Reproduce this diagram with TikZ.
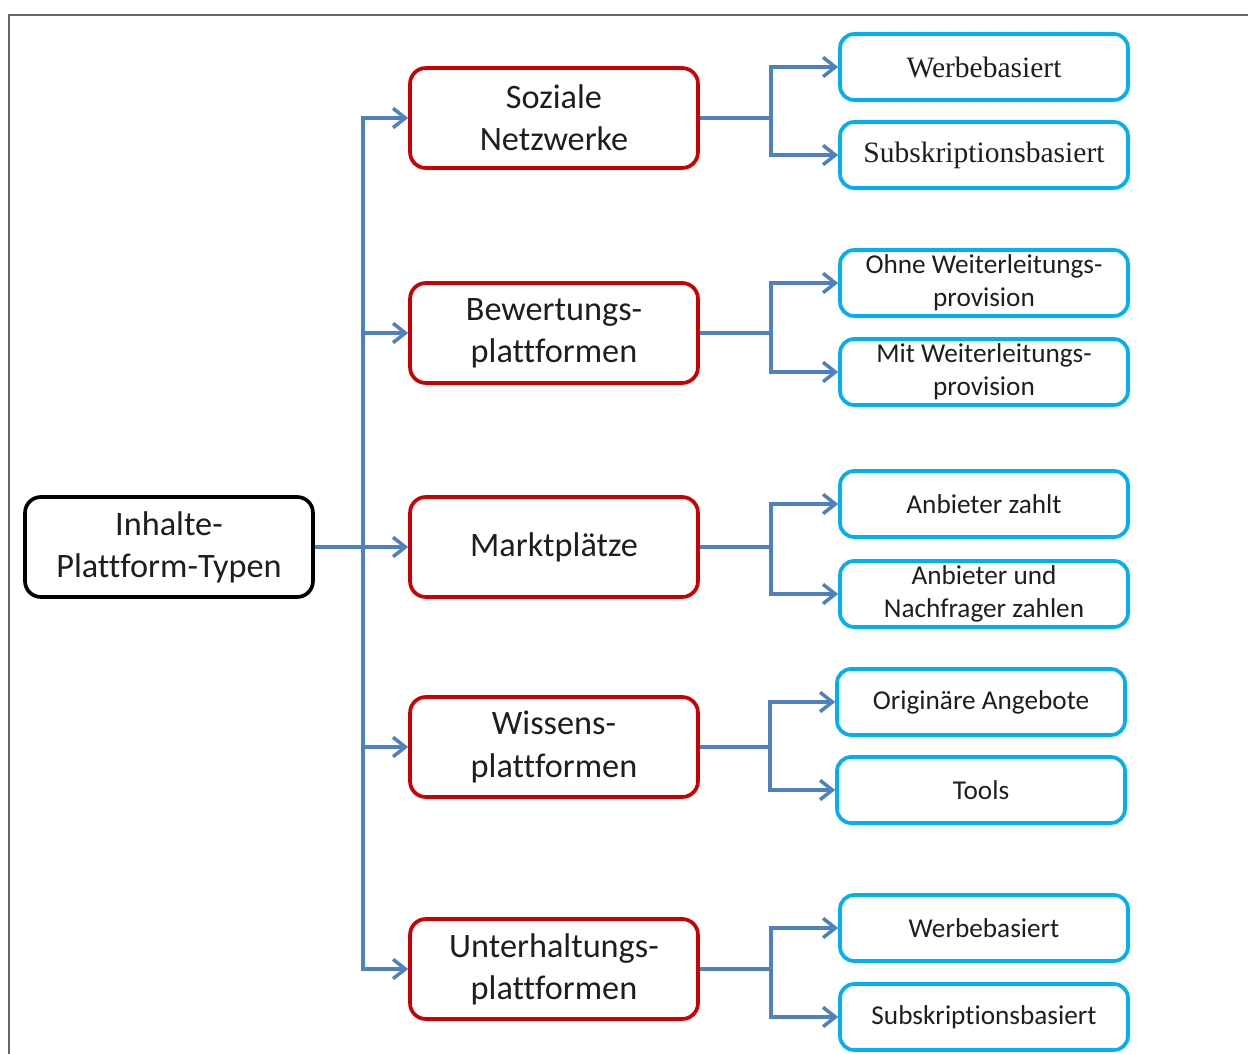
\documentclass[tikz,border=0pt]{standalone}
\usepackage{fontspec}
\setmainfont{Carlito}[Ligatures={NoCommon}]
\newfontfamily\cambr{Liberation Serif}
\usetikzlibrary{arrows.meta}

\definecolor{rootred}{RGB}{204,0,0}
\definecolor{linkblue}{RGB}{79,129,189}
\definecolor{leafcyan}{RGB}{0,176,240}
\definecolor{txtgray}{RGB}{30,30,30}

\begin{document}
\begin{tikzpicture}[x=0.02cm,y=-0.02cm,
	mainbox/.style={draw=black,line width=2.1pt,rounded corners=9pt,minimum width=5.76cm,minimum height=2cm,align=center,text=txtgray,font=\fontsize{19.5}{24}\selectfont},
	typbox/.style={mainbox,draw=rootred},
	leafbox/.style={draw=leafcyan,line width=2.1pt,rounded corners=8pt,minimum width=5.76cm,minimum height=1.32cm,inner sep=1pt,align=center,text=txtgray,font=\fontsize{15.5}{19}\selectfont},
	serifbox/.style={leafbox,font=\fontsize{16.8}{19}\cambr},
	conn/.style={draw=linkblue,line width=2pt,-{Straight Barb[length=7pt,width=11pt,line width=2pt]}}]
				\useasboundingbox (0,0) rectangle (1248,1054);
				\draw[gray!80!black,line width=1.2pt] (9,1060) -- (9,15) -- (1260,15);
				% left node
				\node[mainbox] (root) at (169,547) {Inhalte-\\Plattform-Typen};
				% platform types
				\node[typbox] (soz) at (554,118) {Soziale\\Netzwerke};
				\node[typbox] (bew) at (554,333) {Bewertungs-\\plattformen};
				\node[typbox] (markt) at (554,547) {Marktplätze};
				\node[typbox] (wiss) at (554,747) {Wissens-\\plattformen};
				\node[typbox] (unt) at (554,969) {Unterhaltungs-\\plattformen};
				% revenue models
				\node[serifbox] (soz1) at (984,67) {Werbebasiert};
				\node[serifbox] (soz2) at (984,155) {Subskriptionsbasiert};
				\node[leafbox] (bew1) at (984,283) {Ohne Weiterleitungs-\\provision};
				\node[leafbox] (bew2) at (984,372) {Mit Weiterleitungs-\\provision};
				\node[leafbox] (markt1) at (984,504) {Anbieter zahlt};
				\node[leafbox] (markt2) at (984,594) {Anbieter und\\Nachfrager zahlen};
				\node[leafbox] (wiss1) at (981,702) {Originäre Angebote};
				\node[leafbox] (wiss2) at (981,790) {Tools};
				\node[leafbox] (unt1) at (984,928) {Werbebasiert};
				\node[leafbox] (unt2) at (984,1017) {Subskriptionsbasiert};
				% connectors
				\draw[conn] (root.east) -- ++(48,0) |- (soz.west);
				\draw[conn] (root.east) -- ++(48,0) |- (bew.west);
				\draw[conn] (root.east) -- (markt.west);
				\draw[conn] (root.east) -- ++(48,0) |- (wiss.west);
				\draw[conn] (root.east) -- ++(48,0) |- (unt.west);
				\draw[conn] (soz.east) -- ++(71,0) |- (soz1.west);
				\draw[conn] (soz.east) -- ++(71,0) |- (soz2.west);
				\draw[conn] (bew.east) -- ++(71,0) |- (bew1.west);
				\draw[conn] (bew.east) -- ++(71,0) |- (bew2.west);
				\draw[conn] (markt.east) -- ++(71,0) |- (markt1.west);
				\draw[conn] (markt.east) -- ++(71,0) |- (markt2.west);
				\draw[conn] (wiss.east) -- ++(70,0) |- (wiss1.west);
				\draw[conn] (wiss.east) -- ++(70,0) |- (wiss2.west);
				\draw[conn] (unt.east) -- ++(71,0) |- (unt1.west);
				\draw[conn] (unt.east) -- ++(71,0) |- (unt2.west);
\end{tikzpicture}
\end{document}
